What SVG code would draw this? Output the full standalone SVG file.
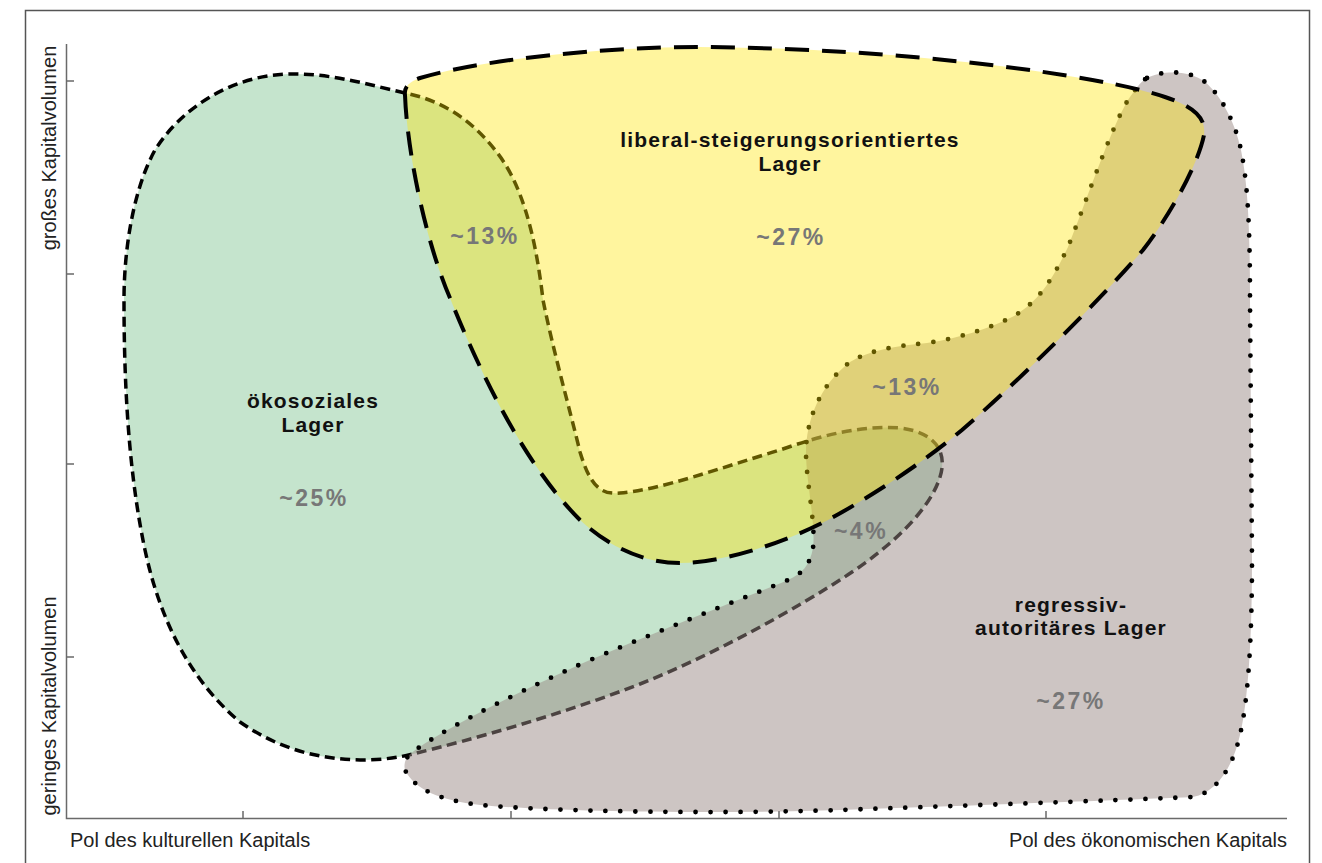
<svg xmlns="http://www.w3.org/2000/svg" width="1322" height="863" viewBox="0 0 1322 863">
<style>
.frame{fill:none;stroke:#555;stroke-width:1.5}
.axis{fill:none;stroke:#6a6a6a;stroke-width:1.5}
.axlabel{font-family:"Liberation Sans",Arial,sans-serif;font-size:20px;fill:#222}
.name{font-family:"Liberation Sans",Arial,sans-serif;font-size:21px;font-weight:bold;fill:#111;letter-spacing:1.2px;text-anchor:middle}
.pct{font-family:"Liberation Sans",Arial,sans-serif;font-size:23px;font-weight:bold;fill:#777;letter-spacing:2.5px;text-anchor:middle}
.green{fill:#c5e4cd;stroke:#000;stroke-width:3.5;stroke-dasharray:10 5.5}
.grey{fill:rgb(153,137,133);fill-opacity:0.49;stroke:#000;stroke-width:4.8;stroke-linecap:round;stroke-dasharray:0 15}
.yellow{fill:rgb(255,229,0);fill-opacity:0.38;stroke:#000;stroke-width:4;stroke-dasharray:24 13}
</style>
<rect width="1322" height="863" fill="#fff"/>
<rect class="frame" x="25.5" y="10.5" width="1284" height="900"/>
<g id="axes">
<path class="axis" d="M66.5 44 V818.5 H1287"/>
<path class="axis" d="M66 81 H74 M66 274 H74 M66 464 H74 M66 657 H74 M243 818 V811 M511 818 V811 M779 818 V811 M1046 818 V811"/>
<text class="axlabel" x="70" y="847">Pol des kulturellen Kapitals</text>
<text class="axlabel" x="1287" y="847" text-anchor="end">Pol des ökonomischen Kapitals</text>
<text class="axlabel" transform="translate(56,148) rotate(-90)" text-anchor="middle">großes Kapitalvolumen</text>
<text class="axlabel" transform="translate(56,706) rotate(-90)" text-anchor="middle">geringes Kapitalvolumen</text>
</g>
<g id="oekosozial">
<path class="green" d="M405 93 C370 85 330 73 290 74 C230 75 180 110 155 150 C133 190 124 250 124 300 C124 380 128 470 145 550 C160 620 190 680 240 722 C280 750 320 759 360 760 C385 760 400 757 413 754 C470 740 560 715 640 684 C720 652 800 606 843 578 C890 548 930 510 940 477 C948 452 935 432 900 428 C860 425 820 436 780 450 C720 468 660 490 620 493 C600 495 590 485 580 452 C570 410 553 350 543 300 C535 230 520 180 495 150 C470 118 440 100 405 93 Z"/>
</g>
<g id="regressiv">
<path class="grey" d="M1147 78 C1162 70 1190 70 1205 82 C1222 96 1236 125 1241 150 C1248 185 1250 230 1250 300 L1252 560 C1252 640 1248 700 1240 735 C1232 770 1215 793 1193 797 C1100 801 950 806 840 810 C720 814 560 812 480 805 C440 800 415 790 405 770 C403 762 407 756 414 751 C440 732 500 700 590 660 C680 622 760 592 788 580 C802 574 810 565 813 548 C816 525 806 480 806 453 C806 420 820 385 850 362 C870 350 895 346 927 343 C960 338 990 328 1010 318 C1035 305 1050 285 1068 247 C1085 205 1110 130 1128 100 C1135 90 1140 82 1147 78 Z"/>
</g>
<g id="liberal">
<path class="yellow" d="M405 95 C407 150 425 240 450 298 C475 360 520 460 580 520 C610 548 645 563 680 563 C720 563 780 545 828 520 C870 497 920 465 962 430 C1020 380 1100 300 1143 250 C1170 215 1198 165 1204 135 C1206 118 1195 107 1165 97 C1100 75 900 48 700 47 C600 47 480 60 420 78 C408 82 404 88 405 95 Z"/>
</g>
<g id="labels">
<text class="name" x="790" y="147">liberal-steigerungsorientiertes</text>
<text class="name" x="790" y="171">Lager</text>
<text class="pct" x="791" y="245">~27%</text>
<text class="name" x="313" y="408">ökosoziales</text>
<text class="name" x="313" y="432">Lager</text>
<text class="pct" x="314" y="506">~25%</text>
<text class="name" x="1071" y="612">regressiv-</text>
<text class="name" x="1071" y="635">autoritäres Lager</text>
<text class="pct" x="1071" y="709">~27%</text>
<text class="pct" x="485" y="244">~13%</text>
<text class="pct" x="907" y="395">~13%</text>
<text class="pct" x="861" y="539">~4%</text>
</g>
</svg>
